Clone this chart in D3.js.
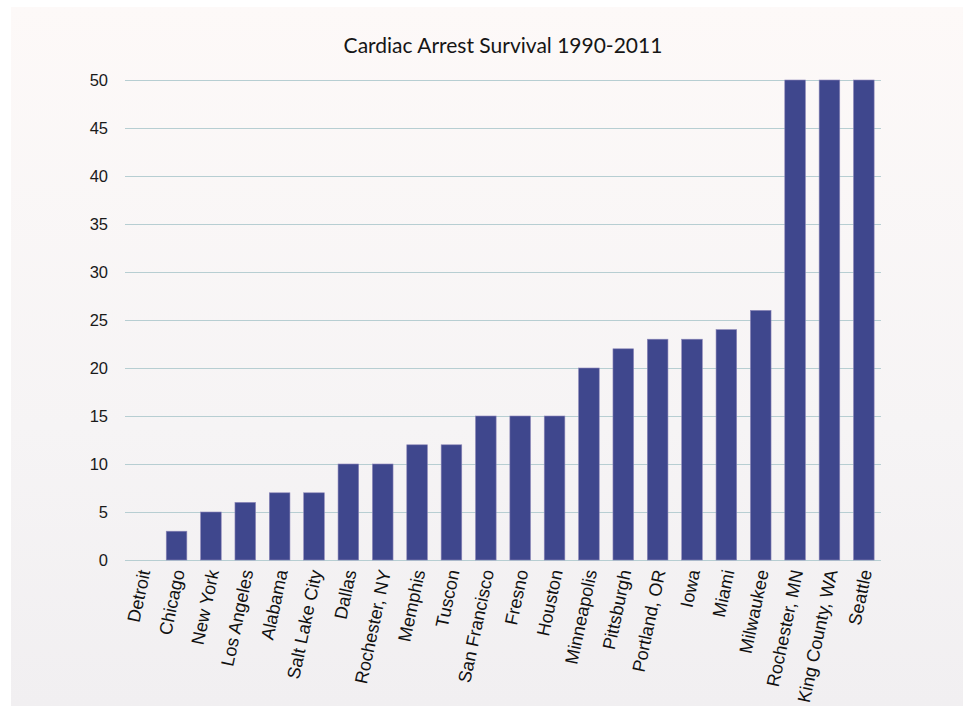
<!DOCTYPE html>
<html>
<head>
<meta charset="utf-8">
<title>Cardiac Arrest Survival</title>
<script src="https://d3js.org/d3.v7.min.js"></script>
<style>
  body { margin: 0; background: #ffffff; }
  svg { display: block; }
</style>
</head>
<body>
<script>
// data
var cities = ["Detroit", "Chicago", "New York", "Los Angeles", "Alabama", "Salt Lake City",
  "Dallas", "Rochester, NY", "Memphis", "Tuscon", "San Francisco", "Fresno", "Houston",
  "Minneapolis", "Pittsburgh", "Portland, OR", "Iowa", "Miami", "Milwaukee",
  "Rochester, MN", "King County, WA", "Seattle"];
var survival = [0, 3, 5, 6, 7, 7, 10, 10, 12, 12, 15, 15, 15, 20, 22, 23, 23, 24, 26, 50, 50, 50];
var yTicks = [0, 5, 10, 15, 20, 25, 30, 35, 40, 45, 50];
var title = "Cardiac Arrest Survival 1990-2011";

var W = 971, H = 713;
var plot = { left: 125, right: 881, top: 80, bottom: 560 };

var svg = d3.select("body").append("svg")
  .attr("width", W)
  .attr("height", H);

// panel background with soft gradient
var grad = svg.append("defs").append("linearGradient")
  .attr("id", "bg")
  .attr("x1", 0).attr("y1", 0).attr("x2", 0).attr("y2", 1);
grad.append("stop").attr("offset", "0%").attr("stop-color", "#fdf9f8");
grad.append("stop").attr("offset", "60%").attr("stop-color", "#f6f4f5");
grad.append("stop").attr("offset", "100%").attr("stop-color", "#f1eff1");

svg.append("rect")
  .attr("x", 11).attr("y", 7)
  .attr("width", 952).attr("height", 699)
  .attr("fill", "url(#bg)");

var x = d3.scaleBand()
  .domain(cities)
  .range([plot.left, plot.right])
  .paddingInner(0.4)
  .paddingOuter(0.2);

var y = d3.scaleLinear()
  .domain([0, 50])
  .range([plot.bottom, plot.top]);

// gridlines + y labels
var yAxis = svg.append("g")
  .attr("transform", "translate(" + plot.left + ",0)")
  .call(d3.axisLeft(y).tickValues(yTicks).tickSize(-(plot.right - plot.left)).tickPadding(17));
yAxis.select(".domain").remove();
yAxis.selectAll(".tick line")
  .attr("stroke", "#b7ced2")
  .attr("stroke-width", 1.2);
yAxis.selectAll(".tick text")
  .attr("font-family", "Liberation Sans, Arial, sans-serif")
  .attr("font-size", "16.5px")
  .attr("fill", "#1a1a1a");

// bars
svg.selectAll("rect.bar")
  .data(cities)
  .enter()
  .append("rect")
  .attr("class", "bar")
  .attr("x", function(d) { return x(d); })
  .attr("y", function(d, i) { return y(survival[i]); })
  .attr("width", x.bandwidth())
  .attr("height", function(d, i) { return y(0) - y(survival[i]); })
  .attr("fill", "#3f478d")
  .attr("stroke", "#8c86b8")
  .attr("stroke-width", 0.6);

// x labels
var xAxis = svg.append("g")
  .attr("transform", "translate(0," + plot.bottom + ")")
  .call(d3.axisBottom(x).tickSize(0).tickPadding(0));
xAxis.select(".domain").remove();
xAxis.selectAll(".tick text")
  .attr("font-family", "Liberation Sans, Arial, sans-serif")
  .attr("font-size", "18px")
  .attr("fill", "#111")
  .attr("text-anchor", "end")
  .attr("x", 0)
  .attr("y", 0)
  .attr("dy", "0.35em")
  .attr("transform", "translate(2,10) rotate(-78)");

svg.append("text")
  .attr("x", (plot.left + plot.right) / 2)
  .attr("y", 53)
  .attr("text-anchor", "middle")
  .attr("font-family", "Lato, sans-serif")
  .attr("font-size", "21px")
  .attr("fill", "#161616")
  .text(title);
</script>
</body>
</html>
